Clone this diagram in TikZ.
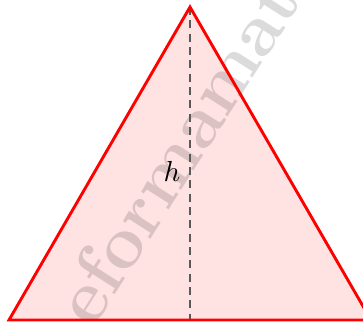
\documentclass[tikz,border=0pt]{standalone}
\begin{document}
\begin{tikzpicture}[x=0.345pt,y=-0.345pt,
  edge/.style={draw=red, line width=1pt, line join=miter},
  alt/.style={draw=black!65, line width=0.6pt, dash pattern=on 2.8pt off 1.8pt},
  wmark/.style={text=black, opacity=0.14, font=\fontsize{25.5}{29}\bfseries\selectfont, inner sep=0pt, rotate=57.5, anchor=base west}]
\useasboundingbox (0,0) rectangle (363,322);
\clip (0,0) rectangle (363,322);
\coordinate (A) at (9,320);
\coordinate (B) at (371,320);
\coordinate (C) at (190,7);
\coordinate (D) at (190,320);
\fill[red!11] (A) -- (B) -- (C) -- cycle;
\node[wmark] (w) at (93,330) {eformamat};
\draw[alt] (C) -- (D);
\draw[edge] (A) -- (B) -- (C) -- cycle;
\node (h) at (172,171) {$h$};
\end{tikzpicture}
\end{document}
